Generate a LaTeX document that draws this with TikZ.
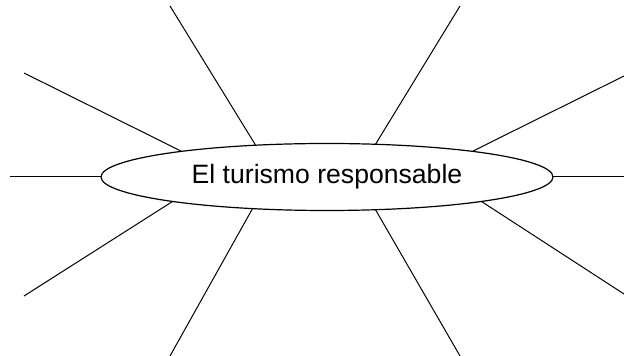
\documentclass[tikz,border=0pt]{standalone}
\usepackage{fontspec}
\setmainfont{Liberation Sans}
\usetikzlibrary{shapes.geometric}
\begin{document}
\begin{tikzpicture}[x=0.5pt,y=-0.5pt]
        \useasboundingbox (0,0) rectangle (624,356);
        \node (tema) [ellipse,draw,line width=0.6pt,minimum width=226pt,minimum height=33.5pt,inner sep=0pt,outer sep=0pt,font=\fontsize{13.3}{15}\selectfont] at (327,177) {El turismo responsable};
        \begin{scope}
            \coordinate (1) at (170,6);
            \coordinate (2) at (24,73);
            \coordinate (3) at (10,177);
            \coordinate (4) at (24,296);
            \coordinate (5) at (170,356);
            \coordinate (6) at (460,6);
            \coordinate (7) at (624,76);
            \coordinate (8) at (624,177);
            \coordinate (9) at (624,294);
            \coordinate (10) at (460,356);
        \end{scope}
        \begin{scope}[every edge/.style={draw,line width=0.5pt}]
            \path
                (tema.156) edge (1)
                (tema.170.3) edge (2)
                (tema.180) edge (3)
                (tema.189) edge (4)
                (tema.203.7) edge (5);
        \end{scope}
        \begin{scope}[every edge/.style={draw,line width=0.5pt}]
            \path
                (tema.34.5) edge (6)
                (tema.10.2) edge (7)
                (tema.0) edge (8)
                (tema.-9.1) edge (9)
                (tema.-34.5) edge (10);
        \end{scope}
    \end{tikzpicture}
\end{document}
